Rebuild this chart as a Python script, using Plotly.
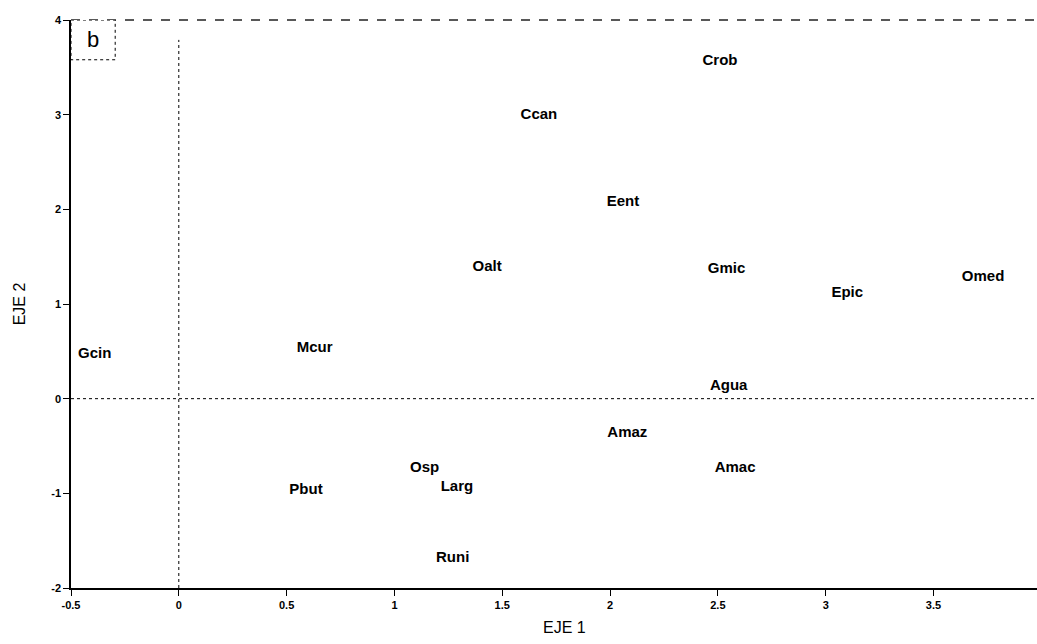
import plotly.graph_objects as go

labels = ["Crob", "Ccan", "Eent", "Oalt", "Gmic", "Epic", "Omed", "Gcin", "Mcur",
          "Agua", "Amaz", "Amac", "Osp", "Pbut", "Larg", "Runi"]
eje1 = [2.51, 1.67, 2.06, 1.43, 2.54, 3.10, 3.73, -0.39, 0.63,
        2.55, 2.08, 2.58, 1.14, 0.59, 1.29, 1.27]
eje2 = [3.56, 2.99, 2.07, 1.39, 1.37, 1.11, 1.28, 0.47, 0.53,
        0.13, -0.36, -0.74, -0.73, -0.97, -0.94, -1.69]

x_ticks = [-0.5, 0, 0.5, 1, 1.5, 2, 2.5, 3, 3.5]
x_tick_text = ["-0.5", "0", "0.5", "1", "1.5", "2", "2.5", "3", "3.5"]
y_ticks = [-2, -1, 0, 1, 2, 3, 4]
y_tick_text = ["-2", "-1", "0", "1", "2", "3", "4"]

fig = go.Figure()
fig.add_trace(go.Scatter(
    x=eje1, y=eje2, mode="text", text=labels,
    textposition="middle center",
    textfont=dict(family="Liberation Sans", size=15, color="black", weight="bold"),
    hoverinfo="skip", showlegend=False))

# zero reference lines
fig.add_shape(type="line", x0=-0.5, x1=3.98, y0=0, y1=0,
              line=dict(color="black", width=1, dash="dot"))
fig.add_shape(type="line", x0=0, x1=0, y0=-2, y1=3.79,
              line=dict(color="black", width=1, dash="dot"))
# top border
fig.add_shape(type="line", xref="paper", yref="paper", x0=0, x1=1, y0=1, y1=1,
              line=dict(color="#222", width=1.3, dash="dash"))
# panel label box
fig.add_shape(type="rect", x0=-0.5, x1=-0.295, y0=4, y1=3.58,
              line=dict(color="black", width=1, dash="dot"), fillcolor="white")
fig.add_annotation(x=-0.3975, y=3.79, text="b", showarrow=False,
                   font=dict(family="Liberation Sans", size=22, color="black"))

fig.add_annotation(xref="paper", yref="paper", x=0.511, y=-0.069, yanchor="middle",
                   text="EJE 1", showarrow=False,
                   font=dict(family="Liberation Sans Narrow, Liberation Sans", size=16, color="black"))

fig.update_xaxes(range=[-0.5, 3.98], tickvals=x_ticks, ticktext=x_tick_text,
                 showgrid=False, zeroline=False, showline=True, linecolor="black",
                 linewidth=1.5, ticks="outside", ticklen=6, tickcolor="black",
                 tickfont=dict(family="Liberation Sans", size=11, color="black", weight="bold"))
fig.update_yaxes(range=[-2, 4], tickvals=y_ticks, ticktext=y_tick_text,
                 showgrid=False, zeroline=False, showline=True, linecolor="black",
                 linewidth=1.5, ticks="outside", ticklen=6, tickcolor="black",
                 tickfont=dict(family="Liberation Sans", size=11, color="black", weight="bold"),
                 title=dict(text="EJE 2", standoff=22,
                            font=dict(family="Liberation Sans", size=16, color="black")))

fig.update_layout(width=1037, height=644, plot_bgcolor="white", paper_bgcolor="white",
                  margin=dict(l=71, r=0, t=20, b=56))

fig.write_html("out.html")
